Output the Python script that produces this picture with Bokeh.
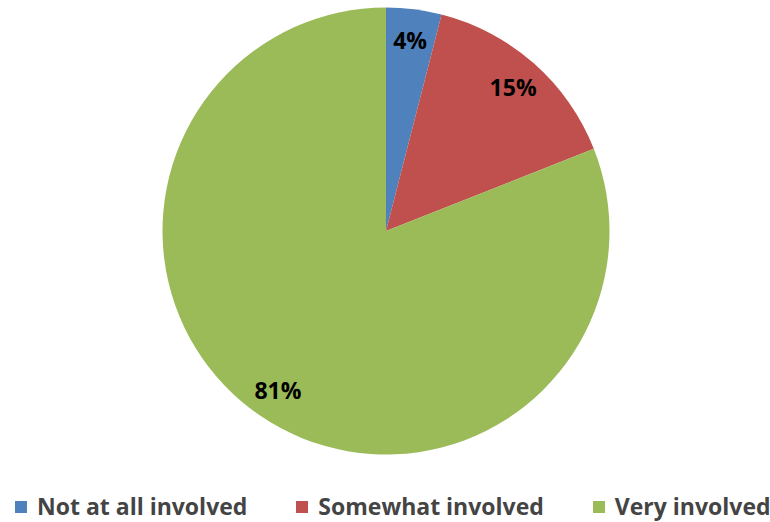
import math
from bokeh.plotting import figure
from bokeh.models import ColumnDataSource, Range1d, Legend, LegendItem
from bokeh.core.properties import value
from bokeh.embed import file_html
from bokeh.resources import INLINE

categories = ["Not at all involved", "Somewhat involved", "Very involved"]
shares = [4, 15, 81]
colors = ["#4F81BD", "#C0504D", "#9BBB59"]

W, H = 770, 522
cx, cy = 385.5, 522 - 230.5
R = 223.5

total = sum(shares)
starts, ends, lx, ly, labels = [], [], [], [], []
acc = 0.0
for s in shares:
    a0 = math.pi / 2 - 2 * math.pi * acc / total
    a1 = math.pi / 2 - 2 * math.pi * (acc + s) / total
    starts.append(a0)
    ends.append(a1)
    mid = (a0 + a1) / 2
    lx.append(cx + 0.86 * R * math.cos(mid))
    ly.append(cy + 0.86 * R * math.sin(mid))
    labels.append(f"{s}%")
    acc += s

src = ColumnDataSource(dict(cat=categories, start=starts, end=ends, color=colors,
                            lx=lx, ly=ly, label=labels,
                            x=[cx] * 3, y=[cy] * 3))

p = figure(width=W, height=H, output_backend="svg", toolbar_location=None,
           x_range=Range1d(0, W), y_range=Range1d(522 - H, 522),
           min_border=0, outline_line_color=None)
p.axis.visible = False
p.grid.visible = False
p.background_fill_color = "white"
p.border_fill_color = "white"

r = p.wedge(x="x", y="y", radius=R, start_angle="start", end_angle="end",
            direction="clock", fill_color="color", line_color=None, source=src)

p.text(x="lx", y="ly", text="label", source=src, text_align="center",
       text_baseline="middle", text_font=value("Open Sans"),
       text_font_style="bold", text_font_size="23px", text_color="black")

items = [LegendItem(label=c, renderers=[r], index=i) for i, c in enumerate(categories)]
legend = Legend(items=items, orientation="horizontal", location=(13, 0),
                border_line_color=None, background_fill_alpha=0,
                glyph_width=15, glyph_height=15, label_standoff=9, spacing=47,
                padding=0, margin=0, label_text_font="Open Sans",
                label_text_font_style="bold", label_text_font_size="23px",
                label_height=22, label_text_baseline="middle")
p.add_layout(legend)

open("out.html", "w").write(file_html(p, INLINE))
